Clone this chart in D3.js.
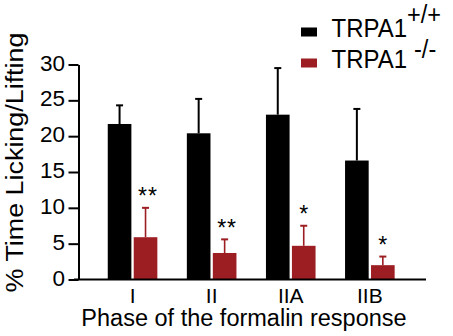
<!DOCTYPE html>
<html>
<head>
<meta charset="utf-8">
<script src="https://cdn.jsdelivr.net/npm/d3@7"></script>
<style>
  html, body { margin: 0; padding: 0; background: #fff; }
  svg { display: block; font-family: "Liberation Sans", Arial, Helvetica, sans-serif; }
</style>
</head>
<body>
<svg id="chart" width="453" height="336"></svg>
<script>
// Formalin response phases and the two genotypes
const phases = ["I", "II", "IIA", "IIB"];
const genotypes = ["wt", "ko"];
const wtMean = [21.7, 20.4, 23.0, 16.6];
const wtErr  = [2.6, 4.8, 6.5, 7.2];
const koMean = [5.9, 3.7, 4.7, 2.0];
const koErr  = [4.1, 1.9, 2.8, 1.2];
const significance = ["**", "**", "*", "*"];
const yTicks = [0, 5, 10, 15, 20, 25, 30];

const colors = { wt: "#000000", ko: "#9c1e22" };

const rows = phases.map((p, i) => ({
  phase: p,
  wt: { mean: wtMean[i], err: wtErr[i] },
  ko: { mean: koMean[i], err: koErr[i] },
  sig: significance[i]
}));

const svg = d3.select("#chart");

const y = d3.scaleLinear().domain([0, 30]).range([279.5, 64.5]);
const x = d3.scaleBand().domain(phases).range([93, 409.4])
  .paddingInner(0.373).paddingOuter(0.1865);
const xSub = d3.scaleBand().domain(genotypes).range([0, x.bandwidth()]).paddingInner(0.09);

// Bars
const groups = svg.append("g").selectAll("g").data(rows).join("g")
  .attr("transform", d => `translate(${x(d.phase)},0)`);

genotypes.forEach(g => {
  groups.append("rect")
    .attr("x", xSub(g))
    .attr("width", xSub.bandwidth())
    .attr("y", d => y(d[g].mean))
    .attr("height", d => y(0) - y(d[g].mean))
    .attr("fill", colors[g]);

  // upper error bars with caps
  const sw = g === "wt" ? 2 : 1.6;
  const cx = xSub(g) + xSub.bandwidth() / 2;
  groups.append("line")
    .attr("x1", cx).attr("x2", cx)
    .attr("y1", d => y(d[g].mean))
    .attr("y2", d => y(d[g].mean + d[g].err))
    .attr("stroke", colors[g]).attr("stroke-width", sw);
  groups.append("line")
    .attr("x1", cx - 3.5).attr("x2", cx + 3.5)
    .attr("y1", d => y(d[g].mean + d[g].err))
    .attr("y2", d => y(d[g].mean + d[g].err))
    .attr("stroke", colors[g]).attr("stroke-width", 2);
});

// Significance stars above the knockout bars
groups.append("text")
  .attr("x", d => xSub("ko") + xSub.bandwidth() / 2 + (d.sig.length > 1 ? 2.5 : 0))
  .attr("y", d => y(d.ko.mean + d.ko.err) - 3.5)
  .attr("text-anchor", "middle")
  .attr("font-size", 23)
  .attr("letter-spacing", d => d.sig.length > 1 ? 1 : 0)
  .attr("fill", "#000")
  .text(d => d.sig);

// Y axis
const yAxis = d3.axisLeft(y).tickValues(yTicks).tickSize(10).tickPadding(3.5).tickSizeOuter(0);
const yg = svg.append("g").attr("transform", "translate(78.5,0)").call(yAxis);
yg.select(".domain").attr("stroke", "#000").attr("stroke-width", 2);
yg.selectAll(".tick line").attr("stroke", "#000").attr("stroke-width", 2);
yg.selectAll(".tick text")
  .attr("font-size", 22.5)
  .attr("font-family", null)
  .attr("fill", "#000")
  .attr("dy", null)
  .attr("y", 5.5);

// X baseline and category labels
const xAxis = d3.axisBottom(x).tickSize(0).tickPadding(0);
const xg = svg.append("g").attr("transform", `translate(0,${y(0)})`).call(xAxis);
xg.select(".domain").remove();
xg.append("line").attr("x1", 74).attr("x2", 426).attr("y1", 0).attr("y2", 0)
  .attr("stroke", "#000").attr("stroke-width", 2);
xg.selectAll(".tick text")
  .attr("font-size", 21)
  .attr("font-family", null)
  .attr("fill", "#000")
  .attr("dy", null)
  .attr("y", 23);

// Axis titles
svg.append("text")
  .attr("text-anchor", "middle")
  .attr("font-size", 23.5)
  .attr("transform", "translate(244,325.5)")
  .text("Phase of the formalin response");

svg.append("text")
  .attr("text-anchor", "middle")
  .attr("font-size", 24)
  .attr("transform", "translate(22.5,162.5) rotate(-90) scale(1.12,1)")
  .text("% Time Licking/Lifting");

// Legend
const legend = [
  { key: "wt", label: "TRPA1", sup: "+/+", base: 36.5, supDy: -12, supDx: 0, supSize: 23.5 },
  { key: "ko", label: "TRPA1", sup: "-/-", base: 67.5, supDy: -9, supDx: 7, supSize: 23.5 }
];
const lg = svg.append("g");
legend.forEach(l => {
  lg.append("rect").attr("x", 301).attr("y", l.base - 9).attr("width", 16).attr("height", 9)
    .attr("fill", colors[l.key]);
  const t = lg.append("text")
    .attr("transform", `translate(331.5,${l.base}) scale(1,1.1)`)
    .attr("font-size", 24);
  t.append("tspan").text(l.label);
  t.append("tspan").attr("dy", l.supDy).attr("dx", l.supDx).attr("font-size", l.supSize).text(l.sup);
});
</script>
</body>
</html>
